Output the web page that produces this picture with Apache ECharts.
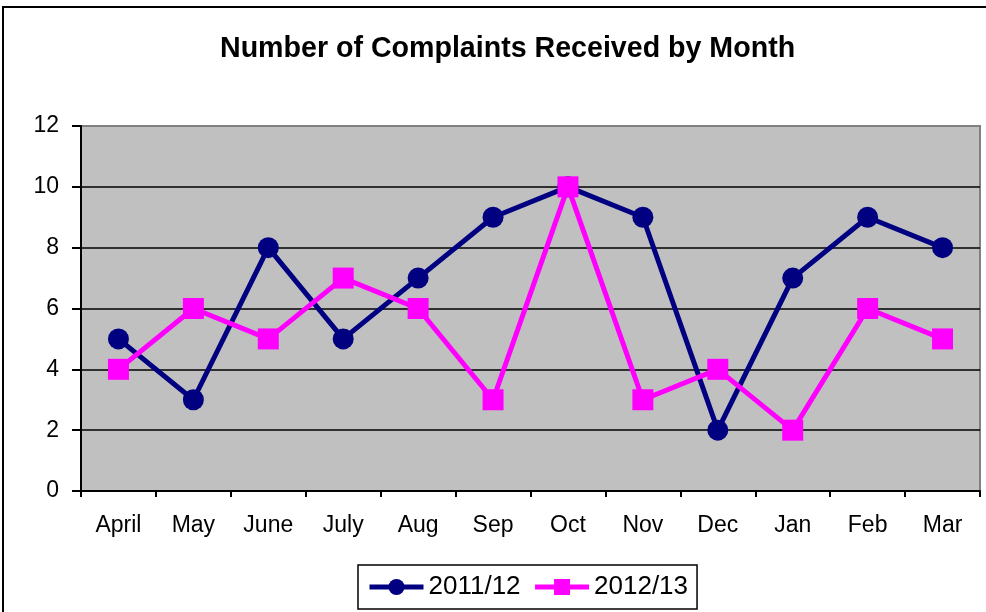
<!DOCTYPE html>
<html>
<head>
<meta charset="utf-8">
<script src="https://cdn.jsdelivr.net/npm/echarts@6/dist/echarts.min.js"></script>
<style>
  html, body { margin: 0; padding: 0; background: #fff; }
  #chart { width: 986px; height: 612px; }
</style>
</head>
<body>
<div id="chart"></div>
<script>
var months = ['April', 'May', 'June', 'July', 'Aug', 'Sep', 'Oct', 'Nov', 'Dec', 'Jan', 'Feb', 'Mar']
var yr1112 = [5, 3, 8, 5, 7, 9, 10, 9, 2, 7, 9, 8]
var yr1213 = [4, 6, 5, 7, 6, 3, 10, 3, 4, 2, 6, 5]

var font = 'Arial, "Liberation Sans", sans-serif'

var option = {
  backgroundColor: '#fff',
  textStyle: { fontFamily: font, color: '#000' },
  title: {
    text: 'Number of Complaints Received by Month',
    left: 215,
    top: 30,
    textStyle: { fontFamily: font, fontSize: 28.6, fontWeight: 'bold', color: '#000' }
  },
  graphic: [{
    type: 'rect',
    shape: { x: 3, y: 7, width: 1000, height: 700 },
    style: { fill: 'none', stroke: '#000', lineWidth: 2 },
    silent: true
  }],
  legend: {
    data: ['2011/12', '2012/13'],
    left: 358,
    top: 565,
    padding: [9, 9, 9, 9],
    itemWidth: 54,
    itemHeight: 20,
    itemGap: 12,
    borderColor: '#000',
    borderWidth: 1.5,
    lineStyle: { width: 5 },
    textStyle: { fontFamily: font, fontSize: 26, color: '#000' }
  },
  grid: {
    left: 81,
    top: 126,
    right: 6,
    bottom: 121,
    show: true,
    backgroundColor: '#c0c0c0',
    borderColor: '#808080',
    borderWidth: 2
  },
  xAxis: {
    type: 'category',
    data: months,
    boundaryGap: true,
    axisLine: { lineStyle: { color: '#000', width: 2 } },
    axisTick: { show: true, length: 6, inside: false, lineStyle: { color: '#000', width: 2 } },
    axisLabel: { fontFamily: font, fontSize: 23, color: '#000', margin: 23 },
    splitLine: { show: false }
  },
  yAxis: {
    type: 'value',
    min: 0,
    max: 12,
    interval: 2,
    axisLine: { show: true, lineStyle: { color: '#000', width: 2 } },
    axisTick: { show: true, length: 9, lineStyle: { color: '#000', width: 2 } },
    axisLabel: { fontFamily: font, fontSize: 23, color: '#000', margin: 22 },
    splitLine: { show: true, lineStyle: { color: ['#000', '#000', '#000', '#000', '#000', '#000', '#808080'], width: 1.5 } }
  },
  series: [{
    name: '2011/12',
    type: 'line',
    data: yr1112,
    color: '#000080',
    symbol: 'circle',
    symbolSize: 21,
    lineStyle: { width: 5 },
    animation: false
  }, {
    name: '2012/13',
    type: 'line',
    data: yr1213,
    color: '#ff00ff',
    symbol: 'rect',
    symbolSize: 21,
    lineStyle: { width: 5 },
    animation: false
  }]
}

var charts = echarts.init(document.getElementById('chart'))
charts.setOption(option)
</script>
</body>
</html>
